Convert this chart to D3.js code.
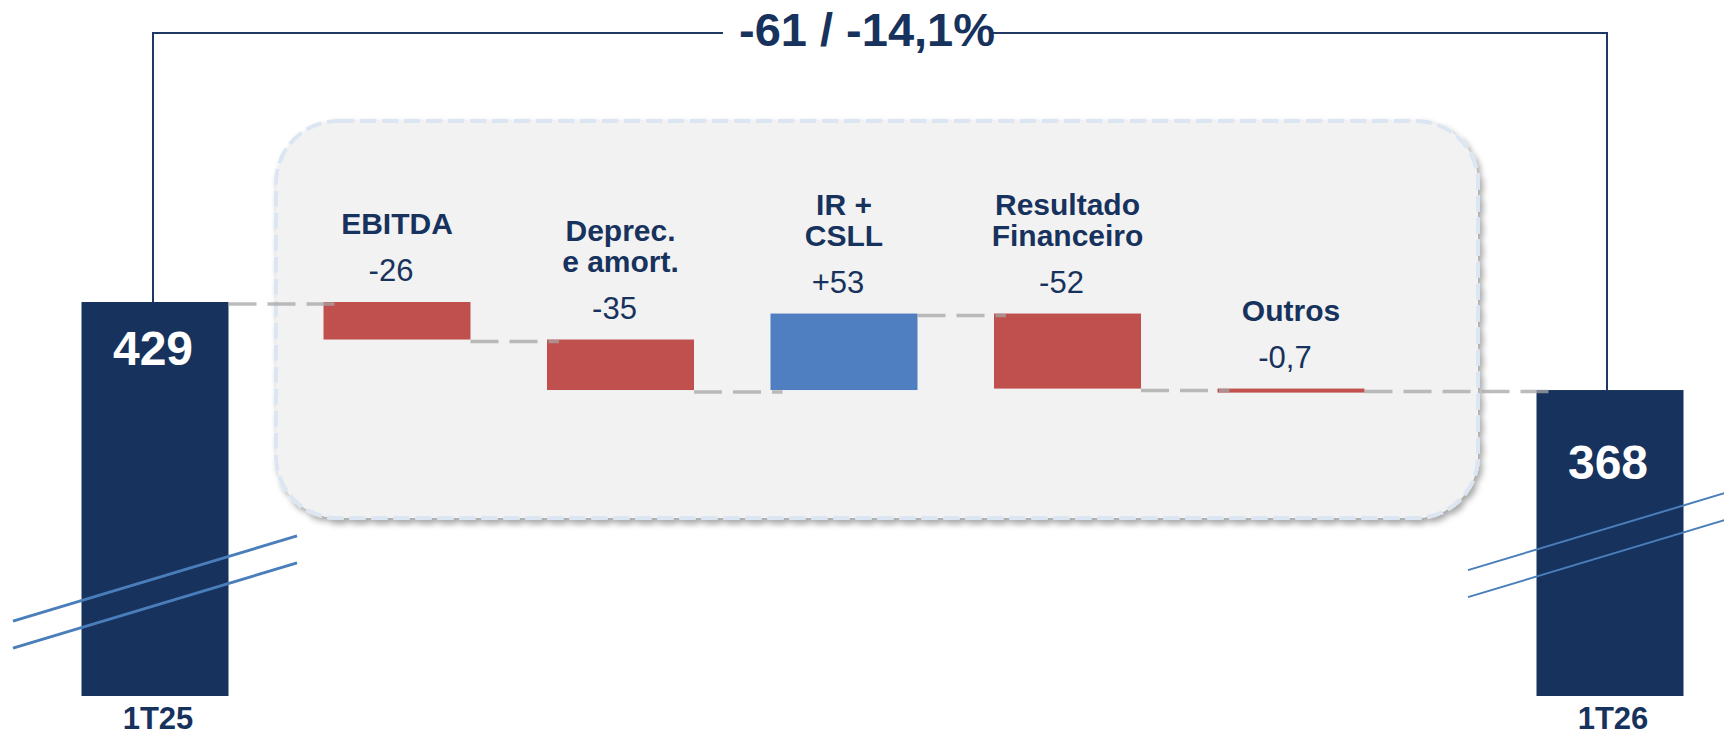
<!DOCTYPE html>
<html>
<head>
<meta charset="utf-8">
<script src="https://cdn.jsdelivr.net/npm/d3@7"></script>
<style>
  body { margin: 0; background: #fff; }
  svg { display: block; font-family: "Liberation Sans", Arial, sans-serif; }
</style>
</head>
<body>
<div id="chart"></div>
<script>
// data
const totalNames = ["1T25", "1T26"];
const totalValues = [429, 368];
const stepNames = ["EBITDA", "Deprec. e amort.", "IR + CSLL", "Resultado Financeiro", "Outros"];
const stepLines = [["EBITDA"], ["Deprec.", "e amort."], ["IR +", "CSLL"], ["Resultado", "Financeiro"], ["Outros"]];
const stepValues = [-26, -35, 53, -52, -0.7];
const stepText = ["-26", "-35", "+53", "-52", "-0,7"];
const changeText = "-61 / -14,1%";

const width = 1724;
const height = 737;
const barW = 147;
const navy = "#17325d";
const red = "#c0504d";
const blue = "#4f7fc0";

const svg = d3.select("#chart")
    .append("svg")
    .attr("width", width)
    .attr("height", height);

// broken value axis: bottom of the total bars stands for the break
const axisFloor = 156;
const y = d3.scaleLinear()
    .domain([axisFloor, 429])
    .range([696, 302]);

const xTotal = d3.scalePoint().domain(totalNames).range([155, 1610]);
const xStep = d3.scalePoint().domain(stepNames).range([397, 1291]);

// shadow for the box
const defs = svg.append("defs");
defs.append("filter")
    .attr("id", "shadow")
    .attr("x", "-5%").attr("y", "-5%")
    .attr("width", "110%").attr("height", "115%")
    .append("feDropShadow")
    .attr("dx", 3).attr("dy", 4)
    .attr("stdDeviation", 3)
    .attr("flood-color", "#000")
    .attr("flood-opacity", 0.35);

// grey rounded box around the steps
svg.append("rect")
    .attr("x", 276).attr("y", 121)
    .attr("width", 1202).attr("height", 397)
    .attr("rx", 62).attr("ry", 62)
    .attr("fill", "#f2f2f2")
    .attr("stroke", "#dce6f2")
    .attr("stroke-width", 4)
    .attr("stroke-dasharray", "16 6")
    .attr("filter", "url(#shadow)");

// running levels
let level = totalValues[0];
const steps = stepValues.map((v, i) => {
    const start = level;
    level += v;
    return { name: stepNames[i], lines: stepLines[i], text: stepText[i], value: v, start, end: level };
});

// total bars
svg.selectAll(".total")
    .data(totalNames)
    .enter()
    .append("rect")
    .attr("class", "total")
    .attr("x", d => xTotal(d) - barW / 2)
    .attr("y", (d, i) => y(totalValues[i]))
    .attr("width", barW)
    .attr("height", (d, i) => y(axisFloor) - y(totalValues[i]))
    .attr("fill", navy);

// step bars
svg.selectAll(".step")
    .data(steps)
    .enter()
    .append("rect")
    .attr("class", "step")
    .attr("x", d => xStep(d.name) - barW / 2)
    .attr("y", d => y(Math.max(d.start, d.end)))
    .attr("width", barW)
    .attr("height", d => Math.max(4, Math.abs(y(d.start) - y(d.end))))
    .attr("fill", d => d.value < 0 ? red : blue);

// connectors between bars
const seq = [{ x: xTotal(totalNames[0]), level: totalValues[0] }]
    .concat(steps.map(d => ({ x: xStep(d.name), level: d.end })))
    .concat([{ x: xTotal(totalNames[1]), level: totalValues[1] }]);

svg.selectAll(".connector")
    .data(d3.pairs(seq))
    .enter()
    .append("line")
    .attr("class", "connector")
    .attr("x1", d => d[0].x + barW / 2)
    .attr("x2", d => d[1].x - barW / 2 + 12)
    .attr("y1", d => y(d[0].level) + 2)
    .attr("y2", d => y(d[0].level) + 2)
    .attr("stroke", "#a6a6a6")
    .attr("stroke-opacity", 0.75)
    .attr("stroke-width", 3.5)
    .attr("stroke-dasharray", "28 11");

// break marks over the total bars
const breakMid = [592, 541];
const breakWidth = [3, 2];
totalNames.forEach((d, i) => {
    const cx = xTotal(d);
    [-13.5, 13.5].forEach(off => {
        svg.append("line")
            .attr("x1", cx - 142)
            .attr("x2", cx + 142)
            .attr("y1", breakMid[i] + off + 0.3 * 142)
            .attr("y2", breakMid[i] + off - 0.3 * 142)
            .attr("stroke", "#4a7ebb")
            .attr("stroke-width", breakWidth[i]);
    });
});

// value inside the total bars
const totalLabelDy = [63, 89];
svg.selectAll(".totalValue")
    .data(totalNames)
    .enter()
    .append("text")
    .attr("class", "totalValue")
    .attr("x", d => xTotal(d) - 2)
    .attr("y", (d, i) => y(totalValues[i]) + totalLabelDy[i])
    .attr("text-anchor", "middle")
    .attr("fill", "#fff")
    .style("font-size", "48px")
    .style("font-weight", "bold")
    .text((d, i) => totalValues[i]);

// period labels
svg.selectAll(".period")
    .data(totalNames)
    .enter()
    .append("text")
    .attr("class", "period")
    .attr("x", d => xTotal(d) + 3)
    .attr("y", 729)
    .attr("text-anchor", "middle")
    .attr("fill", navy)
    .style("font-size", "31px")
    .style("font-weight", "bold")
    .text(d => d);

// step values
svg.selectAll(".stepValue")
    .data(steps)
    .enter()
    .append("text")
    .attr("class", "stepValue")
    .attr("x", d => xStep(d.name) - 6)
    .attr("y", d => y(Math.max(d.start, d.end)) - 21)
    .attr("text-anchor", "middle")
    .attr("fill", navy)
    .style("font-size", "31px")
    .text(d => d.text);

// step names
const names = svg.selectAll(".stepName")
    .data(steps)
    .enter()
    .append("text")
    .attr("class", "stepName")
    .attr("text-anchor", "middle")
    .attr("fill", navy)
    .style("font-size", "30px")
    .style("font-weight", "bold");

names.each(function (d) {
    const base = y(Math.max(d.start, d.end)) - 68;
    const n = d.lines.length;
    d3.select(this).selectAll("tspan")
        .data(d.lines)
        .enter()
        .append("tspan")
        .attr("x", xStep(d.name))
        .attr("y", (l, j) => base - (n - 1 - j) * 31)
        .text(l => l);
});

// bracket with total change
const bracketLeft = xTotal(totalNames[0]) - 2;
const bracketRight = xTotal(totalNames[1]) - 3;
const bracketTop = 33;
svg.append("path")
    .attr("d", `M${bracketLeft},${y(totalValues[0])}V${bracketTop}H${bracketRight}V${y(totalValues[1])}`)
    .attr("fill", "none")
    .attr("stroke", "#1f3864")
    .attr("stroke-width", 2);

const change = svg.append("text")
    .attr("x", 867)
    .attr("y", 46)
    .attr("text-anchor", "middle")
    .attr("fill", navy)
    .style("font-size", "47px")
    .style("font-weight", "bold")
    .text(changeText);

const bb = change.node().getBBox();
svg.append("rect")
    .attr("x", bb.x - 16)
    .attr("y", bb.y)
    .attr("width", bb.width + 12)
    .attr("height", bb.height)
    .attr("fill", "#fff");
change.raise();
</script>
</body>
</html>
